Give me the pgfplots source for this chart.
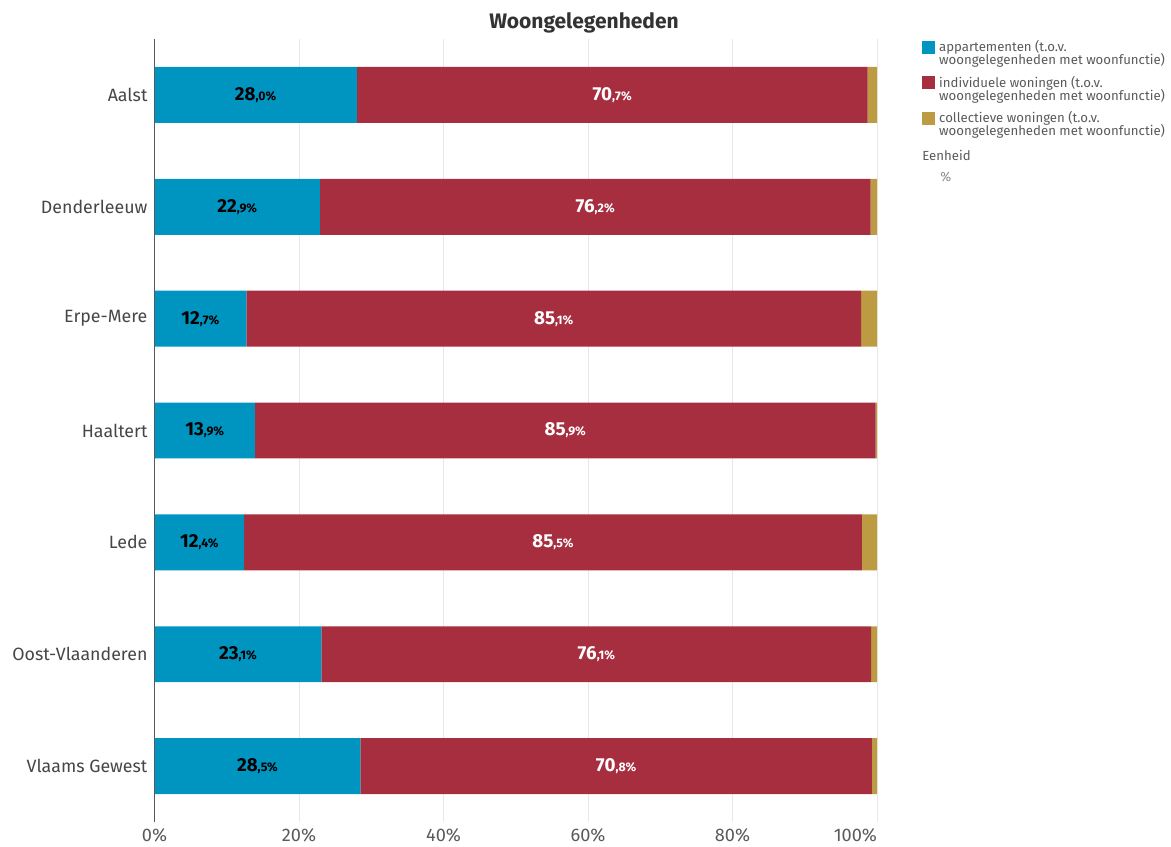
\documentclass[border=0pt]{standalone}
\usepackage{fontspec}
\setmainfont{Fira Sans}
\usepackage{pgfplots}
\pgfplotsset{compat=1.18}
\definecolor{cblue}{RGB}{0,148,193}
\definecolor{cred}{RGB}{167,46,62}
\definecolor{cgold}{RGB}{189,155,66}
\definecolor{cgrid}{RGB}{232,232,232}
\definecolor{ctxt}{RGB}{70,70,70}
\definecolor{clegtxt}{RGB}{90,90,90}
\newcommand{\lab}[2]{\fontsize{9.4}{10}\selectfont\bfseries #1{\fontsize{6.2}{7}\selectfont,#2\%}}
\begin{document}
\begin{tikzpicture}[x=1pt,y=1pt]
\useasboundingbox (0,0) rectangle (585.5,423);
\pgfplotsset{myaxis/.style={
  at={(77.25pt,12pt)}, anchor=south west, scale only axis,
  width=361.25pt, height=391.5pt,
  xmin=0, xmax=100, ymin=-0.5, ymax=6.5}}
\begin{axis}[myaxis, xbar stacked, bar width=0.5,
  axis line style={draw=none},
  ytick={0,...,6},
  yticklabels={Vlaams Gewest,Oost-Vlaanderen,Lede,Haaltert,Erpe-Mere,Denderleeuw,Aalst},
  xtick={0,20,40,60,80,100},
  xticklabels={0\%,20\%,40\%,60\%,80\%,\llap{100\%}},
  major tick length=0pt,
  xmajorgrids, grid style={cgrid, line width=0.5pt},
  yticklabel style={font=\fontsize{8.9}{10}\selectfont, text=ctxt},
  xticklabel style={font=\fontsize{9.1}{10}\selectfont, text=clegtxt, yshift=0.5pt},
  legend style={at={(rel axis cs:1.062,1.004)}, anchor=north west, draw=none, fill=none,
    font=\fontsize{6.6}{6.5}\selectfont, text=clegtxt, inner sep=0pt,
    cells={anchor=north west, align=left}, row sep=0pt},
  legend image code/.code={\fill[#1] (0pt,-8.7pt) rectangle (6.5pt,-2.2pt);},
  extra description/.code={\draw[black!65, line width=0.6pt] (rel axis cs:0,0)--(rel axis cs:0,1);},
]
\addplot[fill=cblue, draw=none] coordinates {(28.0,6) (22.9,5) (12.7,4) (13.9,3) (12.4,2) (23.1,1) (28.5,0)};
\addplot[fill=cred, draw=none] coordinates {(70.7,6) (76.2,5) (85.1,4) (85.9,3) (85.5,2) (76.1,1) (70.8,0)};
\addplot[fill=cgold, draw=none] coordinates {(1.3,6) (0.9,5) (2.2,4) (0.2,3) (2.1,2) (0.8,1) (0.7,0)};
\legend{appartementen (t.o.v.\\[-1.5pt]woongelegenheden met woonfunctie),
        individuele woningen (t.o.v.\\[-1.5pt]woongelegenheden met woonfunctie),
        collectieve woningen (t.o.v.\\[-1.5pt]woongelegenheden met woonfunctie)}
\end{axis}
\begin{axis}[myaxis, hide axis,
  every node near coord/.append style={anchor=center, inner sep=0pt}]
\addplot[draw=none, mark=none, nodes near coords, point meta=explicit symbolic,
  every node near coord/.append style={text=black}] coordinates {
  (14.0,6) [{\lab{28}{0}}]
  (11.45,5) [{\lab{22}{9}}]
  (6.35,4) [{\lab{12}{7}}]
  (6.95,3) [{\lab{13}{9}}]
  (6.2,2) [{\lab{12}{4}}]
  (11.55,1) [{\lab{23}{1}}]
  (14.25,0) [{\lab{28}{5}}]
};
\addplot[draw=none, mark=none, nodes near coords, point meta=explicit symbolic,
  every node near coord/.append style={text=white}] coordinates {
  (63.35,6) [{\lab{70}{7}}]
  (61.0,5) [{\lab{76}{2}}]
  (55.25,4) [{\lab{85}{1}}]
  (56.85,3) [{\lab{85}{9}}]
  (55.15,2) [{\lab{85}{5}}]
  (61.15,1) [{\lab{76}{1}}]
  (63.9,0) [{\lab{70}{8}}]
};
\end{axis}
\node[font=\fontsize{10.5}{12}\selectfont\bfseries, text=black!80] at (292,411.5) {Woongelegenheden};
\node[anchor=west, inner sep=0pt, font=\fontsize{6.6}{8}\selectfont, text=clegtxt] at (461,345.5) {Eenheid};
\node[anchor=west, inner sep=0pt, font=\fontsize{6.6}{8}\selectfont, text=clegtxt!70] at (470,334.5) {\%};
\end{tikzpicture}
\end{document}
